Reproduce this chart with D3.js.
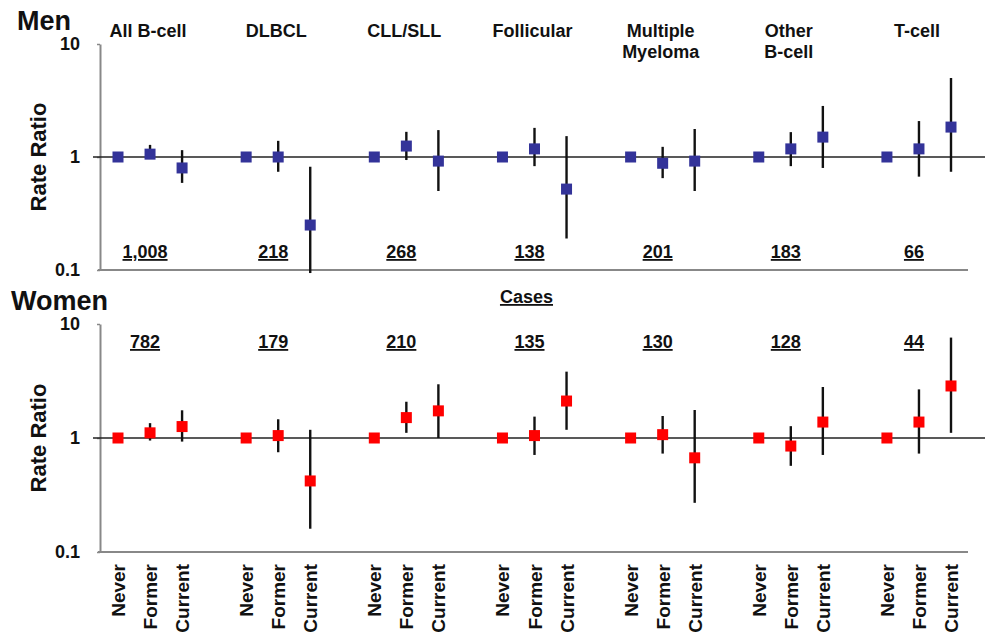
<!DOCTYPE html>
<html>
<head>
<meta charset="utf-8">
<script src="https://cdn.jsdelivr.net/npm/d3@7"></script>
<style>
  body { margin: 0; background: #fff; }
  text { font-family: "Liberation Sans", Arial, sans-serif; font-weight: bold; fill: #111; }
</style>
</head>
<body>
<script>
// subtypes and smoking status
var groups = [['All B-cell'], ['DLBCL'], ['CLL/SLL'], ['Follicular'], ['Multiple', 'Myeloma'], ['Other', 'B-cell'], ['T-cell']];
var statuses = ['Never', 'Former', 'Current'];

var menCases = ['1,008', '218', '268', '138', '201', '183', '66'];
var womenCases = ['782', '179', '210', '135', '130', '128', '44'];

// rate ratios [never, former, current]
var menRR = [[1, 1.06, 0.80], [1, 1.00, 0.25], [1, 1.25, 0.92], [1, 1.18, 0.52], [1, 0.88, 0.92], [1, 1.18, 1.50], [1, 1.18, 1.84]];
var menLo = [[null, 0.96, 0.59], [null, 0.74, 0.094], [null, 0.94, 0.50], [null, 0.83, 0.19], [null, 0.65, 0.50], [null, 0.83, 0.80], [null, 0.67, 0.74]];
var menHi = [[null, 1.28, 1.15], [null, 1.39, 0.82], [null, 1.67, 1.73], [null, 1.81, 1.53], [null, 1.23, 1.77], [null, 1.66, 2.83], [null, 2.08, 5.0]];

var womenRR = [[1, 1.11, 1.26], [1, 1.05, 0.42], [1, 1.51, 1.73], [1, 1.05, 2.11], [1, 1.07, 0.67], [1, 0.85, 1.38], [1, 1.38, 2.86]];
var womenLo = [[null, 0.95, 0.93], [null, 0.75, 0.16], [null, 1.11, 1.0], [null, 0.71, 1.18], [null, 0.73, 0.27], [null, 0.57, 0.71], [null, 0.73, 1.11]];
var womenHi = [[null, 1.35, 1.75], [null, 1.46, 1.18], [null, 2.08, 2.96], [null, 1.54, 3.82], [null, 1.56, 1.76], [null, 1.27, 2.80], [null, 2.67, 7.6]];

var width = 985, height = 636;

var svg = d3.select('body').append('svg')
    .attr('width', width)
    .attr('height', height);

// 4 slots per subtype, last gap unused
var x = d3.scaleLinear().domain([0, 26]).range([118, 951]);
function slot(g, k) { return x(g * 4 + k); }

function flatten(rr, lo, hi) {
    var out = [];
    rr.forEach(function(row, g) {
        row.forEach(function(v, k) {
            out.push({g: g, k: k, v: v, lo: lo[g][k], hi: hi[g][k]});
        });
    });
    return out;
}

function drawPanel(opts) {
    var y = d3.scaleLog().domain([0.1, 10]).range([opts.bottom, opts.top]);
    var p = svg.append('g');

    // left axis
    var axis = d3.axisLeft(y)
        .tickValues([0.1, 1, 10])
        .tickFormat(function(d) { return d === 0.1 ? '0.1' : d; })
        .tickSizeInner(3)
        .tickSizeOuter(0)
        .tickPadding(17);
    var ax = p.append('g')
        .attr('transform', 'translate(100,0)')
        .call(axis);
    ax.select('.domain').attr('stroke', '#888').attr('stroke-width', 2);
    ax.selectAll('.tick line').attr('stroke', '#888').attr('stroke-width', 1.5);
    ax.selectAll('.tick text')
        .style('font-family', '"Liberation Sans", Arial, sans-serif')
        .style('font-weight', 'bold')
        .style('font-size', '18px')
        .attr('fill', '#111');

    // bottom line at 0.1
    p.append('line')
        .attr('x1', 98).attr('x2', x(26) + 17)
        .attr('y1', y(0.1)).attr('y2', y(0.1))
        .attr('stroke', '#888').attr('stroke-width', 2);

    // reference line at 1
    p.append('line')
        .attr('x1', 93).attr('x2', width)
        .attr('y1', y(1)).attr('y2', y(1))
        .attr('stroke', '#222').attr('stroke-width', 1.6);

    // panel label
    p.append('text')
        .attr('x', opts.labelX).attr('y', opts.labelY)
        .style('font-size', '27px')
        .text(opts.label);

    // y title
    p.append('text')
        .attr('transform', 'translate(46,' + y(1) + ') rotate(-90)')
        .attr('text-anchor', 'middle')
        .style('font-size', '22px')
        .text('Rate Ratio');

    // case counts
    p.selectAll('text.cases')
        .data(opts.cases)
        .enter().append('text')
        .attr('class', 'cases')
        .attr('x', function(d, i) { return slot(i, 1) - 5; })
        .attr('y', opts.casesY)
        .attr('text-anchor', 'middle')
        .style('font-size', '18px')
        .style('text-decoration', 'underline')
        .text(function(d) { return d; });

    var pts = flatten(opts.rr, opts.lo, opts.hi);

    p.selectAll('line.ci')
        .data(pts.filter(function(d) { return d.lo !== null; }))
        .enter().append('line')
        .attr('class', 'ci')
        .attr('x1', function(d) { return slot(d.g, d.k); })
        .attr('x2', function(d) { return slot(d.g, d.k); })
        .attr('y1', function(d) { return y(d.lo); })
        .attr('y2', function(d) { return y(d.hi); })
        .attr('stroke', '#111')
        .attr('stroke-width', 2.4);

    var s = 11;
    p.selectAll('rect.pt')
        .data(pts)
        .enter().append('rect')
        .attr('class', 'pt')
        .attr('x', function(d) { return slot(d.g, d.k) - s / 2; })
        .attr('y', function(d) { return y(d.v) - s / 2; })
        .attr('width', s)
        .attr('height', s)
        .attr('fill', opts.color);

    return y;
}

drawPanel({
    top: 44, bottom: 270, label: 'Men', labelX: 17, labelY: 30,
    cases: menCases, casesY: 258, color: '#333399',
    rr: menRR, lo: menLo, hi: menHi
});

drawPanel({
    top: 324, bottom: 552, label: 'Women', labelX: 11, labelY: 310,
    cases: womenCases, casesY: 348, color: '#ff0000',
    rr: womenRR, lo: womenLo, hi: womenHi
});

// subtype titles
var titles = svg.selectAll('text.title')
    .data(groups)
    .enter().append('text')
    .attr('class', 'title')
    .attr('text-anchor', 'middle')
    .style('font-size', '18px')
    .attr('y', 37);
titles.selectAll('tspan')
    .data(function(d, i) { return d.map(function(t) { return {t: t, g: i}; }); })
    .enter().append('tspan')
    .attr('x', function(d) { return slot(d.g, 1) - 2; })
    .attr('dy', function(d, j) { return j === 0 ? 0 : 21; })
    .text(function(d) { return d.t; });

svg.append('text')
    .attr('x', slot(3, 1) - 8)
    .attr('y', 303)
    .attr('text-anchor', 'middle')
    .style('font-size', '18px')
    .style('text-decoration', 'underline')
    .text('Cases');

// x labels
var xl = [];
groups.forEach(function(gr, g) {
    statuses.forEach(function(st, k) { xl.push({g: g, k: k, t: st}); });
});
svg.selectAll('text.xlab')
    .data(xl)
    .enter().append('text')
    .attr('class', 'xlab')
    .attr('transform', function(d) { return 'translate(' + (slot(d.g, d.k) + 7) + ',564) rotate(-90)'; })
    .attr('text-anchor', 'end')
    .style('font-size', '19px')
    .text(function(d) { return d.t; });
</script>
</body>
</html>
